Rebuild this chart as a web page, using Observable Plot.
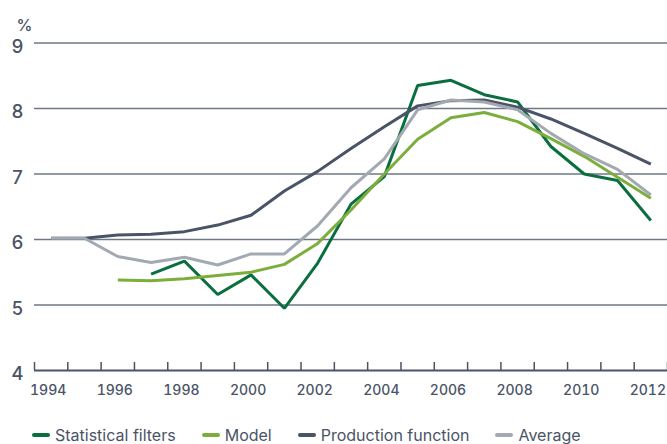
<!DOCTYPE html>
<html>
<head>
<meta charset="utf-8">
<script src="https://cdn.jsdelivr.net/npm/d3@7"></script>
<script src="https://cdn.jsdelivr.net/npm/@observablehq/plot@0.6"></script>
<style>
  html, body { margin: 0; padding: 0; background: #fff; }
  body { width: 667px; height: 444px; overflow: hidden; font-family: Inter, "Open Sans", sans-serif; }
  #legend { display: flex; align-items: center; height: 26px; margin-top: 17px; padding-left: 32px; font-size: 16px; color: #4a5466; }
  .item { display: flex; align-items: center; margin-right: 26px; }
  .sw { width: 18px; height: 4px; border-radius: 2px; margin-right: 5px; }
</style>
</head>
<body>
<div id="chart"></div>
<div id="legend"></div>
<script>
const years = d3.range(1994, 2013);
const seriesNames = ["Statistical filters", "Model", "Production function", "Average"];
const seriesColors = ["#0b6e3f", "#7cae3e", "#4a5466", "#a3a9b2"];

// values per year 1994..2012 (null = no data)
const statisticalFilters = [null, null, null, 5.47, 5.67, 5.16, 5.46, 4.95, 5.64, 6.54, 6.96, 8.35, 8.43, 8.21, 8.10, 7.42, 7.00, 6.90, 6.29];
const model              = [null, null, 5.38, 5.37, 5.40, 5.45, 5.50, 5.62, 5.94, 6.45, 7.00, 7.53, 7.86, 7.94, 7.80, 7.54, 7.27, 6.95, 6.63];
const productionFunction = [6.02, 6.02, 6.07, 6.08, 6.12, 6.22, 6.37, 6.74, 7.04, 7.39, 7.72, 8.04, 8.12, 8.13, 8.02, 7.84, 7.62, 7.39, 7.15];
const average            = [6.02, 6.02, 5.74, 5.65, 5.73, 5.61, 5.78, 5.78, 6.21, 6.79, 7.23, 7.98, 8.13, 8.10, 7.98, 7.62, 7.31, 7.07, 6.68];

const yTicks = [4, 5, 6, 7, 8, 9];
const gridTicks = [5, 6, 7, 8, 9];
const xLabelYears = [1994, 1996, 1998, 2000, 2002, 2004, 2006, 2008, 2010, 2012];
const xTickEdges = d3.range(1993.5, 2013, 1);

const allSeries = [statisticalFilters, model, productionFunction, average];
const rows = [];
allSeries.forEach((vals, s) => {
  years.forEach((yr, i) => {
    if (vals[i] != null) rows.push({series: seriesNames[s], year: yr, value: vals[i]});
  });
});

const textColor = "#4a5466";
const plot = Plot.plot({
  width: 667,
  height: 405,
  marginLeft: 34,
  marginRight: 0,
  marginTop: 42.5,
  marginBottom: 35,
  style: {fontFamily: "Inter, 'Open Sans', sans-serif", color: textColor, background: "#fff", overflow: "visible"},
  x: {domain: [1993.5, 2012.5]},
  y: {domain: [4, 9]},
  color: {domain: seriesNames, range: seriesColors},
  marks: [
    Plot.gridY(gridTicks, {stroke: "#6f7785", strokeOpacity: 1, strokeWidth: 1.4}),
    Plot.ruleY([4], {stroke: "#4a5466", strokeWidth: 2}),
    Plot.ruleX(xTickEdges, {y1: 4, y2: 4, insetBottom: 8, stroke: "#4a5466", strokeWidth: 1.5}),
    Plot.axisY(yTicks, {tickSize: 0, tickPadding: 11, fontSize: 18.5, fontWeight: 500, dy: 4, label: null, fill: textColor, tickFormat: d => String(d)}),
    Plot.axisX(xLabelYears, {tickSize: 0, tickPadding: 15, fontSize: 14, fontWeight: 500, label: null, tickFormat: d => String(d), fill: textColor, letterSpacing: "0.2px", dx: -3}),
    Plot.text(["%"], {frameAnchor: "top-left", dx: -18, dy: -23, fontSize: 16, fontWeight: 500, fill: textColor}),
    Plot.line(rows, {x: "year", y: "value", z: "series", stroke: "series", strokeWidth: 3, strokeLinejoin: "miter", strokeLinecap: "butt"})
  ]
});
document.getElementById("chart").appendChild(plot);

const legend = document.getElementById("legend");
seriesNames.forEach((name, i) => {
  const it = document.createElement("div");
  it.className = "item";
  const sw = document.createElement("div");
  sw.className = "sw";
  sw.style.background = seriesColors[i];
  const tx = document.createElement("span");
  tx.textContent = name;
  it.appendChild(sw); it.appendChild(tx);
  legend.appendChild(it);
});
</script>
</body>
</html>
